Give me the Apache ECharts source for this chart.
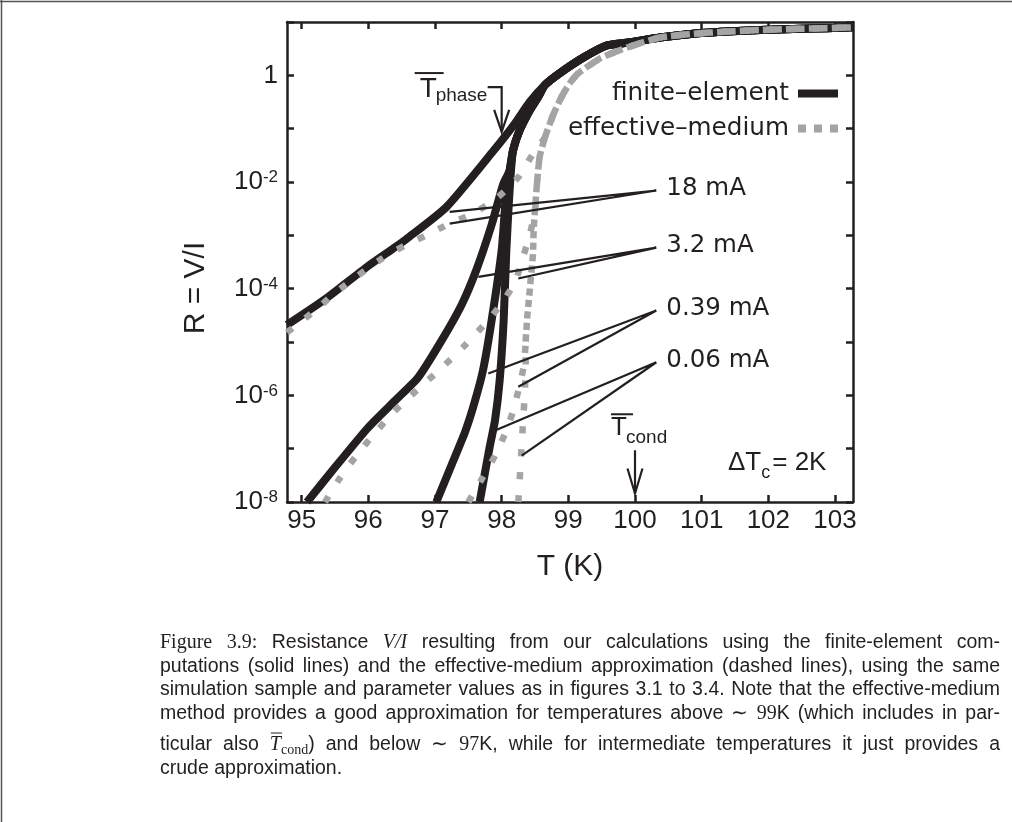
<!DOCTYPE html>
<html lang="en">
<head>
<meta charset="UTF-8">
<title>Figure 3.9 - Resistance V/I</title>
<script src="https://cdn.jsdelivr.net/npm/echarts@6/dist/echarts.min.js"></script>
<style type="text/css">
    * { margin: 0px; padding: 0px; }
    body { background-color: #fff; }
    #chart { width: 1012px; height: 822px; }
</style>
</head>
<body>
<div id="chart"></div>
<script type="text/javascript">
    // values, each point is [T in K, log10 of R]
    // finite-element (solid) curves
    var feTop = [[98.65,-0.18],[98.87,0.04],[99.22,0.33],[99.575,0.56],[99.875,0.61],[100.375,0.71],[100.87,0.78],[101.375,0.82],[101.875,0.85],[102.375,0.87],[102.875,0.885],[103.27,0.9]];
    var feGroup = [[98.17,-1.41],[98.27,-1.03],[98.42,-0.66],[98.55,-0.4]];
    var fe18 = [[94.78,-4.68],[95.35,-4.2],[95.97,-3.6],[96.37,-3.25],[96.57,-3.07],[97.17,-2.47],[97.88,-1.41],[98.2,-0.9],[98.42,-0.5]];
    var fe32 = [[95.08,-8.0],[95.5,-7.35],[96.0,-6.6],[96.4,-6.1],[96.75,-5.66],[97.1,-4.97],[97.4,-4.3],[97.62,-3.65],[97.85,-2.8],[98.02,-2.05],[98.12,-1.78]];
    var fe039 = [[97.02,-8.0],[97.25,-7.3],[97.45,-6.69],[97.58,-6.19],[97.72,-5.53],[97.85,-4.59],[98.0,-3.28],[98.06,-2.34],[98.12,-1.78]];
    var fe006 = [[97.67,-8.0],[97.82,-6.97],[97.9,-6.47],[97.97,-5.72],[98.03,-4.59],[98.07,-3.28],[98.11,-2.34],[98.14,-1.78]];

    // effective-medium (dashed) curves
    var emTop = [[98.65,-1.16],[98.77,-0.75],[98.9,-0.4],[99.02,-0.15],[99.15,0.04],[99.48,0.32],[99.77,0.47],[100.12,0.62],[100.375,0.71],[100.87,0.78],[101.375,0.82],[101.875,0.85],[102.375,0.87],[102.875,0.885],[103.27,0.9]];
    var emCol = [[98.5,-2.53],[98.53,-2.03],[98.57,-1.53]];
    var emMid = [[98.36,-5.03],[98.38,-4.59],[98.41,-4.18],[98.44,-3.77],[98.47,-3.34],[98.48,-2.9]];
    var em18 = [[94.78,-4.82],[95.2,-4.41],[95.52,-4.06],[95.85,-3.75],[96.2,-3.44],[96.55,-3.19],[96.87,-3.0],[97.22,-2.78],[97.57,-2.59],[97.92,-2.31],[98.25,-1.91],[98.47,-1.47]];
    var em32 = [[95.35,-8.0],[95.57,-7.56],[95.82,-7.13],[96.09,-6.72],[96.39,-6.3],[96.73,-5.9],[97.07,-5.52],[97.42,-5.1],[97.72,-4.7],[98.02,-4.25],[98.22,-3.81],[98.32,-3.41],[98.42,-3.0]];
    var em039 = [[97.5,-8.0],[97.72,-7.53],[97.91,-7.11],[98.06,-6.69],[98.17,-6.3],[98.26,-5.86],[98.33,-5.46]];
    var em006 = [[98.25,-8.0],[98.27,-7.58],[98.29,-7.17],[98.31,-6.73],[98.33,-6.31],[98.35,-5.89],[98.36,-5.46]];

    // current labels and where their pointer lines end
    var currents = ['18 mA', '3.2 mA', '0.39 mA', '0.06 mA'];
    var labelT = 100.32;
    var labelLog = [-2.16, -3.23, -4.41, -5.38];
    var pointerFe = [[97.22,-2.56],[97.65,-3.78],[97.8,-5.59],[97.9,-6.66]];
    var pointerEm = [[97.22,-2.78],[98.25,-3.81],[98.25,-5.84],[98.3,-7.13]];

    // axes
    var xMin = 94.78, xMax = 103.27;
    var xTicks = [95, 96, 97, 98, 99, 100, 101, 102, 103];
    var yTickExp = [-8, -7, -6, -5, -4, -3, -2, -1, 0, 1];
    var yLabelExp = [-8, -6, -4, -2, 0];

    // marked temperatures
    var tPhase = 98, tPhaseLog = [-0.22, -1.06];
    var tCond = 100, tCondLog = [-7.03, -7.84];

    var captionLines = [
        '[rm:Figure] [rm:3.9:] Resistance [it:V/I] resulting from our calculations using the finite-element com-',
        'putations (solid lines) and the effective-medium approximation (dashed lines), using the same',
        'simulation sample and parameter values as in figures 3.1 to 3.4. Note that the effective-medium',
        'method provides a good approximation for temperatures above [rm:\u223c] [rm:99]K (which includes in par-',
        'ticular also [ov:T][sub:cond]) and below [rm:\u223c] [rm:97]K, while for intermediate temperatures it just provides a',
        'crude approximation.'
    ];
    var captionY = [643, 667, 690, 714, 745, 769];

    var ink = '#231f20';
    var gray = '#a4a4a4';
    var sans = 'Liberation Sans';

    function pts(list) {
        return list.map(function (p) { return [p[0], Math.pow(10, p[1])]; });
    }
    function pow10(list) {
        return list.map(function (e) { return Math.pow(10, e); });
    }

    function solid(data) {
        return {
            name: 'finite\u2013element', type: 'line', data: pts(data), symbol: 'none',
            smooth: 0.2, silent: true, z: 2,
            lineStyle: { color: ink, width: 8, cap: 'butt', join: 'round' },
            itemStyle: { color: ink }
        };
    }
    function dashed(data) {
        return {
            name: 'effective\u2013medium', type: 'line', data: pts(data), symbol: 'none',
            smooth: 0.2, silent: true, z: 3,
            lineStyle: { color: gray, width: 6.5, type: [7, 16], cap: 'butt' },
            itemStyle: { color: gray }
        };
    }

    var series = [
        solid(fe18.concat(feTop)),
        solid(fe32.concat(feGroup, feTop)),
        solid(fe039.concat(feGroup, feTop)),
        solid(fe006.concat(feGroup, feTop)),
        dashed(em18.concat(emTop)),
        dashed(em32.concat(emCol, emTop)),
        dashed(em039.concat(emMid, emCol, emTop)),
        dashed(em006.concat(emMid, emCol, emTop))
    ];
    for (var i = 0; i < currents.length; i++) {
        series.push({
            type: 'line', symbol: 'none', silent: true, z: 4,
            data: pts([pointerFe[i], [labelT, labelLog[i]], pointerEm[i]]),
            lineStyle: { color: ink, width: 2.2 }
        });
    }

    var axisLine = { show: true, onZero: false, lineStyle: { color: ink, width: 2.5 } };

    var option = {
        animation: false,
        backgroundColor: '#fff',
        grid: { left: 287, right: 159, top: 22, bottom: 320 },
        legend: {
            data: [
                { name: 'finite\u2013element', icon: 'rect' },
                { name: 'effective\u2013medium', icon: 'path://M0,0h8v8h-8z M16,0h8v8h-8z M32,0h8v8h-8z' }
            ],
            orient: 'vertical', right: 169, top: 76, align: 'right',
            itemWidth: 40, itemHeight: 8, itemGap: 10, selectedMode: false,
            textStyle: { fontFamily: 'DejaVu Sans', fontSize: 24.7, color: ink, padding: [0, 4, 0, 0] }
        },
        xAxis: [{
            type: 'value', min: xMin, max: xMax,
            axisLine: axisLine,
            axisTick: { show: true, inside: true, length: 7, customValues: xTicks, lineStyle: { color: ink, width: 2.5 } },
            axisLabel: { customValues: xTicks, margin: 6, color: ink, fontFamily: sans, fontSize: 26 },
            splitLine: { show: false },
            name: 'T (K)', nameLocation: 'middle', nameGap: 50,
            nameTextStyle: { fontFamily: sans, fontSize: 30, color: ink }
        }, {
            type: 'value', min: xMin, max: xMax, position: 'top',
            axisLine: axisLine,
            axisTick: { show: true, inside: true, length: 7, customValues: xTicks, lineStyle: { color: ink, width: 2.5 } },
            axisLabel: { show: false },
            splitLine: { show: false }
        }],
        yAxis: [{
            type: 'log', logBase: 10, min: 1e-8, max: 10,
            axisLine: axisLine,
            axisTick: { show: true, inside: true, length: 7, customValues: pow10(yTickExp), lineStyle: { color: ink, width: 2.5 } },
            axisLabel: {
                customValues: pow10(yLabelExp), margin: 9, color: ink,
                formatter: function (v) {
                    var e = Math.round(Math.log(v) / Math.LN10);
                    return e === 0 ? '{b|1}' : '{b|10}{s|' + e + '}';
                },
                rich: {
                    b: { fontFamily: sans, fontSize: 26, color: ink },
                    s: { fontFamily: sans, fontSize: 17, color: ink, verticalAlign: 'top' }
                }
            },
            splitLine: { show: false },
            minorTick: { show: false }
        }, {
            type: 'log', logBase: 10, min: 1e-8, max: 10, position: 'right',
            axisLine: axisLine,
            axisTick: { show: true, inside: true, length: 7, customValues: pow10(yTickExp), lineStyle: { color: ink, width: 2.5 } },
            axisLabel: { show: false },
            splitLine: { show: false }
        }],
        series: series
    };

    var chart = echarts.init(document.getElementById('chart'));
    chart.setOption(option);

    // ---- annotations, caption and frame ----
    var mctx = document.createElement('canvas').getContext('2d');
    function textWidth(s, font) { mctx.font = font; return mctx.measureText(s).width; }
    function px(T, lg) { return chart.convertToPixel({ xAxisIndex: 0, yAxisIndex: 0 }, [T, Math.pow(10, lg)]); }
    function txt(x, y, s, font, align) {
        return { type: 'text', x: x, y: y, silent: true, z: 10,
            style: { text: s, font: font, fill: ink, align: align || 'left', verticalAlign: 'middle' } };
    }
    function seg(x1, y1, x2, y2, w) {
        return { type: 'line', silent: true, z: 10, shape: { x1: x1, y1: y1, x2: x2, y2: y2 },
            style: { stroke: ink, lineWidth: w } };
    }
    function poly(points, w) {
        return { type: 'polyline', silent: true, z: 10, shape: { points: points },
            style: { stroke: ink, lineWidth: w, fill: null } };
    }

    var els = [];

    // current labels
    for (var k = 0; k < currents.length; k++) {
        var a = px(labelT, labelLog[k]);
        els.push(txt(a[0] + 10, a[1] - 2, currents[k], '24.5px "DejaVu Sans"'));
    }

    // T_phase marker
    var p0 = px(tPhase, tPhaseLog[0]), p1 = px(tPhase, tPhaseLog[1]);
    els.push(poly([[p0[0] - 14, p0[1]], [p0[0], p0[1]], [p0[0], p1[1]]], 2.2));
    els.push(poly([[p0[0] - 7.5, p1[1] - 22], [p0[0], p1[1]], [p0[0] + 7.5, p1[1] - 22]], 2.2));
    els.push(txt(p0[0] - 82, p0[1] + 2, 'T', '28px "' + sans + '"'));
    els.push(seg(p0[0] - 87, p0[1] - 14, p0[0] - 58, p0[1] - 14, 2));
    els.push(txt(p0[0] - 66, p0[1] + 9, 'phase', '19px "' + sans + '"'));

    // T_cond marker
    var c0 = px(tCond, tCondLog[0]), c1 = px(tCond, tCondLog[1]);
    els.push(seg(c0[0], c0[1], c0[0], c1[1], 2.2));
    els.push(poly([[c0[0] - 7.5, c1[1] - 25], [c0[0], c1[1]], [c0[0] + 7.5, c1[1] - 25]], 2.2));
    els.push(txt(c0[0] - 24, c0[1] - 22, 'T', '26px "' + sans + '"'));
    els.push(seg(c0[0] - 24, c0[1] - 36, c0[0] - 2, c0[1] - 36, 2));
    els.push(txt(c0[0] - 9, c0[1] - 13, 'cond', '19px "' + sans + '"'));

    // Delta T_c = 2K
    var dFont = '26px "' + sans + '"', dSub = '18px "' + sans + '"';
    var dx = 728, dy = 463;
    els.push(txt(dx, dy, '\u0394T', dFont));
    dx += textWidth('\u0394T', dFont);
    els.push(txt(dx, dy + 10, 'c', dSub));
    dx += textWidth('c', dSub) + 2;
    els.push(txt(dx, dy, '= 2K', dFont));

    // y axis name
    els.push({ type: 'text', x: 196, y: 288, rotation: Math.PI / 2, silent: true, z: 10,
        style: { text: 'R = V/I', font: '30px "' + sans + '"', fill: ink, align: 'center', verticalAlign: 'middle' } });

    // caption, justified between capLeft and capRight
    var capFonts = {
        sf: '19.5px "Liberation Sans"',
        rm: '20px "Liberation Serif"',
        it: 'italic 20px "Liberation Serif"',
        ov: 'italic 20px "Liberation Serif"',
        sub: '14px "Liberation Serif"'
    };
    var capLeft = 160, capRight = 1000;
    function parseWord(w) {
        var runs = [], re = /\[(\w+):([^\]]*)\]|([^\[]+)/g, m;
        while ((m = re.exec(w))) {
            if (m[3]) runs.push({ k: 'sf', t: m[3] });
            else runs.push({ k: m[1], t: m[2] });
        }
        return runs;
    }
    captionLines.forEach(function (line, li) {
        var words = line.split(' ').map(parseWord);
        var total = 0;
        words.forEach(function (ws) {
            ws.forEach(function (r) { total += textWidth(r.t, capFonts[r.k]); });
        });
        var last = li === captionLines.length - 1;
        var gap = last ? textWidth(' ', capFonts.sf) : (capRight - capLeft - total) / (words.length - 1);
        var x = capLeft, y = captionY[li];
        words.forEach(function (ws) {
            ws.forEach(function (r) {
                var w = textWidth(r.t, capFonts[r.k]);
                els.push(txt(x, y + (r.k === 'sub' ? 5 : 0), r.t, capFonts[r.k]));
                if (r.k === 'ov') els.push(seg(x + 1, y - 12, x + w + 1, y - 12, 1));
                x += w;
            });
            x += gap;
        });
    });

    // page frame
    els.push({ type: 'line', silent: true, shape: { x1: 0, y1: 1.5, x2: 1012, y2: 1.5 }, style: { stroke: '#555', lineWidth: 1.5 } });
    els.push({ type: 'line', silent: true, shape: { x1: 1.5, y1: 0, x2: 1.5, y2: 822 }, style: { stroke: '#555', lineWidth: 1.5 } });

    chart.setOption({ graphic: els });
</script>
</body>
</html>
